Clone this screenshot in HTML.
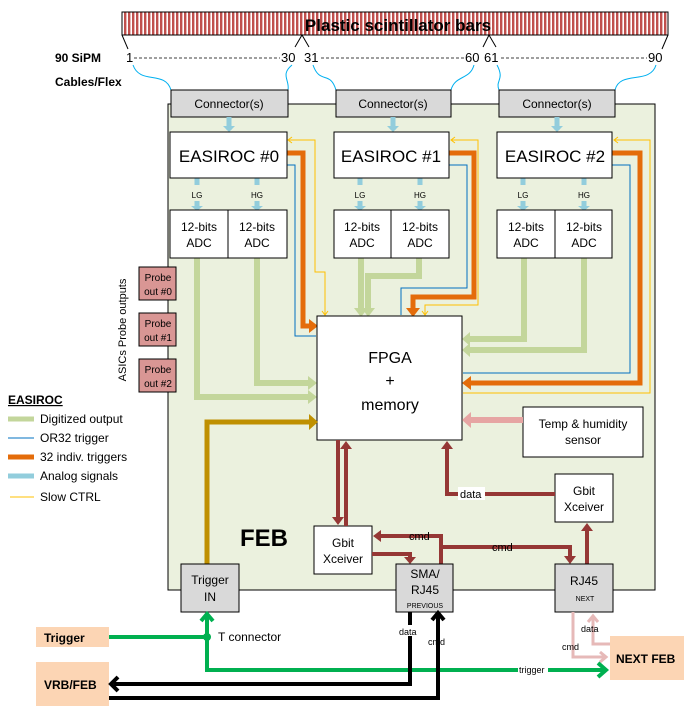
<!DOCTYPE html>
<html><head><meta charset="utf-8"><style>
html,body{margin:0;padding:0;background:#fff}
svg{display:block;font-family:"Liberation Sans",sans-serif}
</style></head><body>
<svg width="684" height="712" viewBox="0 0 684 712" xmlns="http://www.w3.org/2000/svg">
<defs>
<pattern id="bars" width="4" height="10" patternUnits="userSpaceOnUse">
<rect width="4" height="10" fill="#fff"/><rect width="2.4" height="10" fill="#c0504d"/>
</pattern>
</defs>
<!-- scintillator -->
<rect x="122" y="12" width="546" height="23" fill="url(#bars)" stroke="#000" stroke-width="1"/>
<text x="398" y="31" font-size="17" font-weight="bold" text-anchor="middle">Plastic scintillator bars</text>
<path d="M122,35 L128,49 M668,35 L662,49 M295,47 L302,35 L309,47 M483,47 L489,35 L496,47" fill="none" stroke="#000"/>
<text x="55" y="62" font-size="12" font-weight="bold">90 SiPM</text>
<text x="55" y="86" font-size="12" font-weight="bold">Cables/Flex</text>
<g font-size="13">
<text x="126" y="62">1</text><text x="281" y="62">30</text><text x="304" y="62">31</text>
<text x="465" y="62">60</text><text x="484" y="62">61</text><text x="648" y="62">90</text>
</g>
<path d="M134,58 H280 M321,58 H464 M501,58 H647" stroke="#000" stroke-dasharray="3,2" stroke-width="0.8"/>
<g fill="none" stroke="#00b0f0" stroke-width="1">
<path d="M133,65 C140,85 165,70 171,90"/>
<path d="M292,65 C280,75 290,80 288,90"/>
<path d="M313,65 C320,85 330,70 336,90"/>
<path d="M474,65 C470,80 455,75 451,90"/>
<path d="M497,65 C505,80 495,80 499,90"/>
<path d="M656,65 C650,85 620,70 615,90"/>
</g>
<!-- FEB -->
<rect x="168" y="104" width="487" height="486" fill="#ebf1de" stroke="#000"/>
<g fill="#d9d9d9" stroke="#000">
<rect x="171" y="90" width="117" height="27"/><rect x="336" y="90" width="115" height="27"/><rect x="499" y="90" width="116" height="27"/>
</g>
<g font-size="12" text-anchor="middle"><text x="229" y="108">Connector(s)</text><text x="393" y="108">Connector(s)</text><text x="557" y="108">Connector(s)</text></g>
<g stroke="#92cddc" stroke-width="5" fill="none">
<path d="M229,117 V130"/><path d="M393,117 V130"/><path d="M557,117 V130"/>
<path d="M197,178 V185 M197,201 V208 M257,178 V185 M257,201 V208"/>
<path d="M360,178 V185 M360,201 V208 M420,178 V185 M420,201 V208"/>
<path d="M523,178 V185 M523,201 V208 M584,178 V185 M584,201 V208"/>
</g>
<g fill="#92cddc"><path d="M223,126 L229,132 L235,126Z M387,126 L393,132 L399,126Z M551,126 L557,132 L563,126Z"/>
<path d="M191,206 L197,211 L203,206Z M251,206 L257,211 L263,206Z M354,206 L360,211 L366,206Z M414,206 L420,211 L426,206Z M517,206 L523,211 L529,206Z M578,206 L584,211 L590,206Z"/></g>
<g font-size="8" text-anchor="middle"><text x="197" y="198">LG</text><text x="257" y="198">HG</text><text x="360" y="198">LG</text><text x="420" y="198">HG</text><text x="523" y="198">LG</text><text x="584" y="198">HG</text></g>
<g stroke="#c3d69b" stroke-width="6" fill="none">
<path d="M197,258 V397 H312"/><path d="M257,258 V383 H312"/>
<path d="M361,258 V310"/><path d="M419,258 V276 H368 V310"/>
<path d="M524,258 V339 H467"/><path d="M584,258 V350 H467"/>
</g>
<g fill="#c3d69b"><path d="M308,390 L317,397 L308,404Z M308,376 L317,383 L308,390Z M354,308 L361,317 L368,308Z M362,308 L368,317 L375,308Z M470,332 L462,339 L470,346Z M470,343 L462,350 L470,357Z"/></g>
<g stroke="#e46c0a" stroke-width="5" fill="none">
<path d="M287,153 H303 V326 H312"/><path d="M449,153 H474 V297 H413 V311"/><path d="M612,153 H640 V383 H467"/>
</g>
<g fill="#e46c0a"><path d="M309,319 L318,326 L309,333Z M406,308 L413,317 L420,308Z M471,376 L462,383 L471,390Z"/></g>
<g stroke="#0070c0" stroke-width="1" fill="none">
<path d="M287,165 H295 V336 H316"/><path d="M449,165 H467 V288 H401 V315"/><path d="M612,165 H630 V373 H463"/>
</g>
<g stroke="#ffc000" stroke-width="1" fill="none">
<path d="M325,314 V272 H315 V140 H289"/><path d="M425,314 V305 H478 V140 H451"/><path d="M463,393 H650 V140 H614"/>
<path d="M292,137 L288,140 L292,143 M455,137 L451,140 L455,143 M618,137 L614,140 L618,143 M322,311 L325,315 L328,311 M422,311 L425,315 L428,311"/>
</g>
<g fill="#fff" stroke="#000">
<rect x="170" y="132" width="117" height="46"/><rect x="334" y="132" width="115" height="46"/><rect x="497" y="132" width="115" height="46"/>
<rect x="170" y="210" width="58" height="48"/><rect x="228" y="210" width="59" height="48"/>
<rect x="334" y="210" width="57" height="48"/><rect x="391" y="210" width="58" height="48"/>
<rect x="497" y="210" width="58" height="48"/><rect x="555" y="210" width="57" height="48"/>
<rect x="317" y="316" width="145" height="124"/>
<rect x="523" y="407" width="120" height="50"/>
<rect x="314" y="526" width="58" height="48"/><rect x="555" y="474" width="58" height="48"/>
</g>
<g font-size="17" text-anchor="middle"><text x="229" y="162">EASIROC #0</text><text x="391" y="162">EASIROC #1</text><text x="555" y="162">EASIROC #2</text></g>
<g font-size="12" text-anchor="middle">
<text x="199" y="231">12-bits</text><text x="199" y="247">ADC</text><text x="257" y="231">12-bits</text><text x="257" y="247">ADC</text>
<text x="362" y="231">12-bits</text><text x="362" y="247">ADC</text><text x="420" y="231">12-bits</text><text x="420" y="247">ADC</text>
<text x="526" y="231">12-bits</text><text x="526" y="247">ADC</text><text x="584" y="231">12-bits</text><text x="584" y="247">ADC</text>
<text x="583" y="428">Temp &amp; humidity</text><text x="583" y="444">sensor</text>
<text x="343" y="547">Gbit</text><text x="343" y="563">Xceiver</text>
<text x="584" y="495">Gbit</text><text x="584" y="511">Xceiver</text>
</g>
<g font-size="16" text-anchor="middle"><text x="390" y="363">FPGA</text><text x="390" y="386">+</text><text x="390" y="410">memory</text></g>
<path d="M523,420 H470" stroke="#e6a5a3" stroke-width="6"/><path d="M471,412 L462,420 L471,428Z" fill="#e6a5a3"/>
<g fill="#d99694" stroke="#000"><rect x="139" y="267" width="37" height="33"/><rect x="139" y="313" width="37" height="33"/><rect x="139" y="359" width="37" height="33"/></g>
<g font-size="10" text-anchor="middle"><text x="158" y="281">Probe</text><text x="158" y="295">out #0</text><text x="158" y="327">Probe</text><text x="158" y="341">out #1</text><text x="158" y="373">Probe</text><text x="158" y="387">out #2</text></g>
<text transform="translate(126,330) rotate(-90)" font-size="11" text-anchor="middle">ASICs Probe outputs</text>
<text x="8" y="404" font-size="12" font-weight="bold" text-decoration="underline">EASIROC</text>
<path d="M8,419 H34" stroke="#c3d69b" stroke-width="5"/><text x="40" y="423" font-size="12">Digitized output</text>
<path d="M8,438 H34" stroke="#0070c0" stroke-width="1"/><text x="40" y="442" font-size="12">OR32 trigger</text>
<path d="M8,457 H34" stroke="#e46c0a" stroke-width="5"/><text x="40" y="461" font-size="12">32 indiv. triggers</text>
<path d="M8,476 H34" stroke="#92cddc" stroke-width="5"/><text x="40" y="480" font-size="12">Analog signals</text>
<path d="M10,497 H34" stroke="#ffc000" stroke-width="1"/><text x="40" y="501" font-size="12">Slow CTRL</text>
<path d="M207,564 V422 H312" stroke="#bf9000" stroke-width="5" fill="none"/><path d="M309,414 L318,422 L309,430Z" fill="#bf9000"/>
<text x="240" y="546" font-size="24" font-weight="bold">FEB</text>
<g stroke="#953735" stroke-width="4" fill="none">
<path d="M338,440 V518"/><path d="M346,526 V448"/>
<path d="M555,494 H447 V448"/><path d="M587,564 V530"/>
<path d="M441,564 V536 H380"/><path d="M372,554 H410 V558"/>
<path d="M441,547 H570 V556"/>
</g>
<g fill="#953735">
<path d="M332,517 L338,525 L344,517Z M340,449 L346,441 L352,449Z M441,449 L447,441 L453,449Z M581,531 L587,523 L593,531Z M381,530 L373,536 L381,542Z M404,557 L410,564 L416,557Z M564,556 L570,564 L576,556Z"/>
</g>
<g font-size="11" fill="#000">
<rect x="458" y="487" width="27" height="13" fill="#fff"/><text x="460" y="498">data</text>
<text x="409" y="540">cmd</text><text x="492" y="551">cmd</text>
</g>
<g fill="#d9d9d9" stroke="#000"><rect x="181" y="564" width="58" height="48"/><rect x="396" y="564" width="57" height="48"/><rect x="555" y="564" width="58" height="48"/></g>
<g font-size="12" text-anchor="middle"><text x="210" y="584">Trigger</text><text x="210" y="601">IN</text>
<text x="425" y="578">SMA/</text><text x="425" y="594">RJ45</text><text x="584" y="585">RJ45</text></g>
<g font-size="7" text-anchor="middle"><text x="425" y="608">PREVIOUS</text><text x="585" y="601">NEXT</text></g>
<g fill="#fcd5b4"><rect x="36" y="627" width="73" height="20"/><rect x="36" y="662" width="73" height="44"/><rect x="610" y="636" width="74" height="44"/></g>
<g font-size="12" font-weight="bold"><text x="44" y="642">Trigger</text><text x="44" y="689">VRB/FEB</text><text x="616" y="663">NEXT FEB</text></g>
<g stroke="#e6b9b8" stroke-width="3" fill="none"><path d="M573,612 V657 H605"/><path d="M593,618 V644 H610"/>
<path d="M588,622 L593,616 L598,622 M600,652 L606,657 L600,662"/></g>
<text x="581" y="632" font-size="9">data</text><text x="562" y="650" font-size="9">cmd</text>
<g stroke="#00b050" stroke-width="4" fill="none"><path d="M109,637 H207 M207,617 V670 H605"/>
<path d="M201,621 L207,614 L213,621 M598,663 L606,670 L598,677"/></g>
<circle cx="207" cy="637" r="4" fill="#00b050"/>
<text x="218" y="641" font-size="12">T connector</text>
<rect x="518" y="664" width="30" height="10" fill="#fff"/><text x="519" y="673" font-size="9">trigger</text>
<g stroke="#000" stroke-width="4" fill="none"><path d="M410,612 V684 H114"/><path d="M109,698 H438 V616"/>
<path d="M118,677 L111,684 L118,691 M432,620 L438,613 L444,620"/></g>
<rect x="398" y="625" width="22" height="11" fill="#fff"/><text x="399" y="635" font-size="9">data</text>
<text x="428" y="645" font-size="9">cmd</text>
</svg>
</body></html>
